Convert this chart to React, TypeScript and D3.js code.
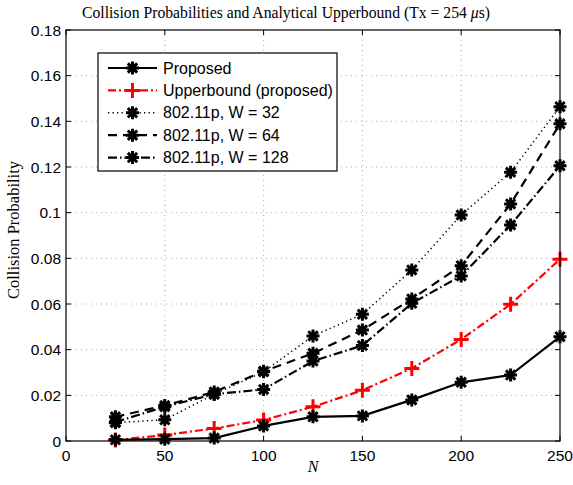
import React, { useEffect, useRef } from "react";
import * as d3 from "d3";

const nValues = [25, 50, 75, 100, 125, 150, 175, 200, 225, 250];
const proposed = [0.0005, 0.0008, 0.0013, 0.0066, 0.0106, 0.011, 0.018, 0.0257, 0.0289, 0.0457];
const upperbound = [0.0004, 0.0026, 0.0055, 0.0092, 0.015, 0.0222, 0.0318, 0.0445, 0.0599, 0.0796];
const w32 = [0.008, 0.0093, 0.0205, 0.0303, 0.046, 0.0555, 0.0749, 0.099, 0.1177, 0.1464];
const w64 = [0.0106, 0.0155, 0.0215, 0.0305, 0.0384, 0.0486, 0.0622, 0.0768, 0.1038, 0.1389];
const w128 = [0.0083, 0.015, 0.0205, 0.0226, 0.035, 0.0418, 0.0603, 0.0723, 0.0946, 0.1205];

const xTicks = [0, 50, 100, 150, 200, 250];
const yTicks = [0, 0.02, 0.04, 0.06, 0.08, 0.1, 0.12, 0.14, 0.16, 0.18];

const seriesNames = [
  "Proposed",
  "Upperbound (proposed)",
  "802.11p, W = 32",
  "802.11p, W = 64",
  "802.11p, W = 128",
];

export default function App() {
  const ref = useRef<SVGSVGElement>(null);

  useEffect(() => {
    const svg = d3.select(ref.current);
    svg.selectAll("*").remove();

    const left = 66, right = 560, top = 30, bottom = 441;
    const x = d3.scaleLinear().domain([0, 250]).range([left, right]);
    const y = d3.scaleLinear().domain([0, 0.18]).range([bottom, top]);
    const sans = "'Liberation Sans', Arial, sans-serif";
    const serif = "'Liberation Serif', 'DejaVu Serif', serif";

    const series = [
      { name: seriesNames[0], values: proposed, color: "#000", dash: null, marker: "star", width: 2.2 },
      { name: seriesNames[1], values: upperbound, color: "#ff0000", dash: "8,3,2,3", marker: "plus", width: 2.2 },
      { name: seriesNames[2], values: w32, color: "#000", dash: "1.3,3.2", marker: "star", width: 1.5 },
      { name: seriesNames[3], values: w64, color: "#000", dash: "9,6", marker: "star", width: 2.2 },
      { name: seriesNames[4], values: w128, color: "#000", dash: "9,3,1.5,3", marker: "star", width: 2.2 },
    ];

    // grid
    const grid = svg.append("g");
    xTicks.slice(1, -1).forEach((t) => {
      grid.append("line").attr("x1", x(t)).attr("x2", x(t)).attr("y1", top).attr("y2", bottom)
        .attr("stroke", "#aaa").attr("stroke-width", 1).attr("stroke-dasharray", "1,4");
    });
    yTicks.slice(1, -1).forEach((t) => {
      grid.append("line").attr("x1", left).attr("x2", right).attr("y1", y(t)).attr("y2", y(t))
        .attr("stroke", "#aaa").attr("stroke-width", 1).attr("stroke-dasharray", "1,4");
    });

    // ticks (inward, all sides)
    const tk = svg.append("g").attr("stroke", "#000").attr("stroke-width", 1);
    xTicks.forEach((t) => {
      tk.append("line").attr("x1", x(t)).attr("x2", x(t)).attr("y1", bottom).attr("y2", bottom - 5);
      tk.append("line").attr("x1", x(t)).attr("x2", x(t)).attr("y1", top).attr("y2", top + 5);
    });
    yTicks.forEach((t) => {
      tk.append("line").attr("x1", left).attr("x2", left + 5).attr("y1", y(t)).attr("y2", y(t));
      tk.append("line").attr("x1", right).attr("x2", right - 5).attr("y1", y(t)).attr("y2", y(t));
    });

    const labels = svg.append("g").attr("font-family", sans).attr("font-size", 15.5);
    xTicks.forEach((t) => {
      labels.append("text").attr("x", x(t)).attr("y", 461).attr("text-anchor", "middle").text(String(t));
    });
    yTicks.forEach((t) => {
      labels.append("text").attr("x", left - 5).attr("y", y(t) + 5.5).attr("text-anchor", "end").text(d3.format("~g")(t));
    });

    const star = (g: any, cx: number, cy: number, color: string) => {
      const r = 6.5;
      const d = r * 0.72;
      g.append("path")
        .attr("d", `M${cx - r},${cy}L${cx + r},${cy}M${cx},${cy - r}L${cx},${cy + r}M${cx - d},${cy - d}L${cx + d},${cy + d}M${cx - d},${cy + d}L${cx + d},${cy - d}`)
        .attr("stroke", color).attr("stroke-width", 3).attr("fill", "none");
    };
    const plus = (g: any, cx: number, cy: number, color: string) => {
      const r = 7.5;
      g.append("path")
        .attr("d", `M${cx - r},${cy}L${cx + r},${cy}M${cx},${cy - r}L${cx},${cy + r}`)
        .attr("stroke", color).attr("stroke-width", 3).attr("fill", "none");
    };

    const line = d3.line<number>().x((_, i) => x(nValues[i])).y((v) => y(v));

    series.slice().reverse().forEach((s) => {
      const g = svg.append("g");
      g.append("path").attr("d", line(s.values)).attr("fill", "none").attr("stroke", s.color)
        .attr("stroke-width", s.width).attr("stroke-dasharray", s.dash);
      s.values.forEach((v, i) => {
        (s.marker === "plus" ? plus : star)(g, x(nValues[i]), y(v), s.color);
      });
    });

    // axes box
    svg.append("rect").attr("x", left).attr("y", top).attr("width", right - left).attr("height", bottom - top)
      .attr("fill", "none").attr("stroke", "#000").attr("stroke-width", 1.2);

    // legend
    const lg = svg.append("g");
    lg.append("rect").attr("x", 98).attr("y", 53).attr("width", 239).attr("height", 118)
      .attr("fill", "#fff").attr("stroke", "#000").attr("stroke-width", 1.2);
    series.forEach((s, i) => {
      const ly = 68 + i * 22.4;
      lg.append("line").attr("x1", 108).attr("x2", 157).attr("y1", ly).attr("y2", ly)
        .attr("stroke", s.color).attr("stroke-width", s.width).attr("stroke-dasharray", s.dash);
      (s.marker === "plus" ? plus : star)(lg, 132.5, ly, s.color);
      lg.append("text").attr("x", 163).attr("y", ly + 5.5).attr("font-family", sans)
        .attr("font-size", 16).text(s.name);
    });

    // title and axis labels
    const title = svg.append("text").attr("x", 286).attr("y", 18).attr("text-anchor", "middle")
      .attr("font-family", serif).attr("font-size", 15.7);
    title.append("tspan").text("Collision Probabilities and Analytical Upperbound (Tx = 254 ");
    title.append("tspan").attr("font-style", "italic").text("μ");
    title.append("tspan").text("s)");

    svg.append("text").attr("x", 313).attr("y", 472).attr("text-anchor", "middle")
      .attr("font-family", serif).attr("font-style", "italic").attr("font-size", 16).text("N");

    svg.append("text").attr("transform", "translate(19,230) rotate(-90)").attr("text-anchor", "middle")
      .attr("font-family", serif).attr("font-size", 16.5).text("Collision Probability");
  }, []);

  return (
    <svg ref={ref} width={573} height={485} style={{ position: "absolute", left: 0, top: 0, background: "#fff" }} />
  );
}
